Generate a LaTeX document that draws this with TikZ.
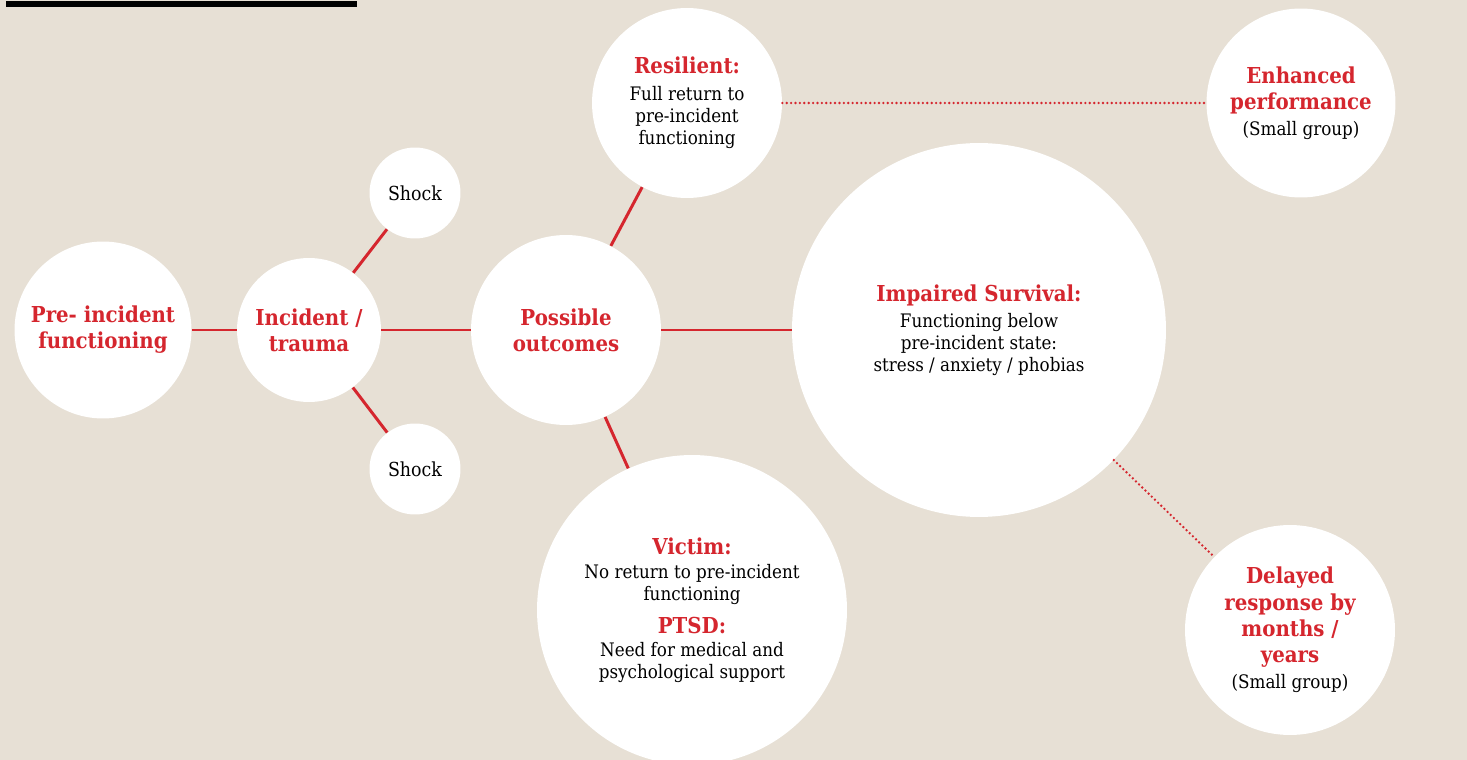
\documentclass[tikz,border=0pt]{standalone}
\usepackage{fontspec}
\setmainfont{DejaVu Serif Condensed}
\usepackage{tikz}

\definecolor{paper}{RGB}{231,224,213}
\definecolor{alarm}{RGB}{213,38,46}
\newcommand{\headfont}{\fontsize{12.5}{14.9}\selectfont\bfseries}
\newcommand{\bodyfont}{\fontsize{10.6}{12.5}\selectfont}
\newcommand{\bubblehead}[1]{{\headfont\color{alarm}#1}}
\newcommand{\groupnote}{{\bodyfont\mdseries\color{black}(Small group)}}

\tikzset{
    bubble/.style={circle, fill=white, inner sep=0pt, align=center, minimum size=#1,
        font=\bodyfont},
    keybubble/.style={bubble=#1, text=alarm, font=\headfont},
    link/.style={alarm, line width=1.7pt},
    later/.style={alarm, line width=1.5pt, line cap=round, dash pattern=on 0pt off 2.5pt}
}

\begin{document}
\begin{tikzpicture}[x=0.02cm, y=-0.02cm]
    % Page
    \fill[paper] (0,0) rectangle (1467,760);
    \useasboundingbox (0,0) rectangle (1467,760);
    \fill[black] (6,1) rectangle (357,7);

    % Start
    \node[keybubble=3.54cm] (pre) at (103,330) {Pre- incident\\functioning};
    \node[keybubble=2.88cm] (incident) at (309,330) {Incident /\\trauma};
    \node[bubble=1.82cm, font=\fontsize{11}{13}\selectfont] (shockup) at (415,193) {Shock};
    \node[bubble=1.82cm, font=\fontsize{11}{13}\selectfont] (shockdown) at (415,469) {Shock};
    \node[keybubble=3.8cm] (outcomes) at (566,330) {Possible\\outcomes};

    % Outcomes
    \node[bubble=3.8cm] (resilient) at (687,103) {
        \bubblehead{Resilient:}\\[3pt]
        Full return to\\
        pre-incident\\
        functioning
    };
    \node[bubble=7.48cm] (impaired) at (979,330) {
        \bubblehead{Impaired Survival:}\\[2.5pt]
        Functioning below\\
        pre-incident state:\\
        stress / anxiety / phobias
    };
    \node[bubble=6.2cm] (victim) at (692,610) {
        \bubblehead{Victim:}\\[1.5pt]
        No return to pre-incident\\
        functioning\\[6pt]
        \bubblehead{PTSD:}\\[0.5pt]
        Need for medical and\\
        psychological support
    };

    % Small groups
    \node[keybubble=3.78cm] (enhanced) at (1301,103) {
        Enhanced\\
        performance\\
        \groupnote
    };
    \node[keybubble=4.2cm] (delayed) at (1290,630) {
        Delayed\\
        response by\\
        months /\\
        years\\
        \groupnote
    };

    \draw[link] (pre) -- (incident);
    \draw[link] (incident) -- (shockup);
    \draw[link] (incident) -- (shockdown);
    \draw[link] (incident) -- (outcomes);
    \draw[link] (outcomes) -- (resilient);
    \draw[link] (outcomes) -- (impaired);
    \draw[link] (outcomes) -- (victim);
    \draw[later] (resilient) -- (enhanced);
    \draw[later] (impaired) -- (delayed);
\end{tikzpicture}
\end{document}
